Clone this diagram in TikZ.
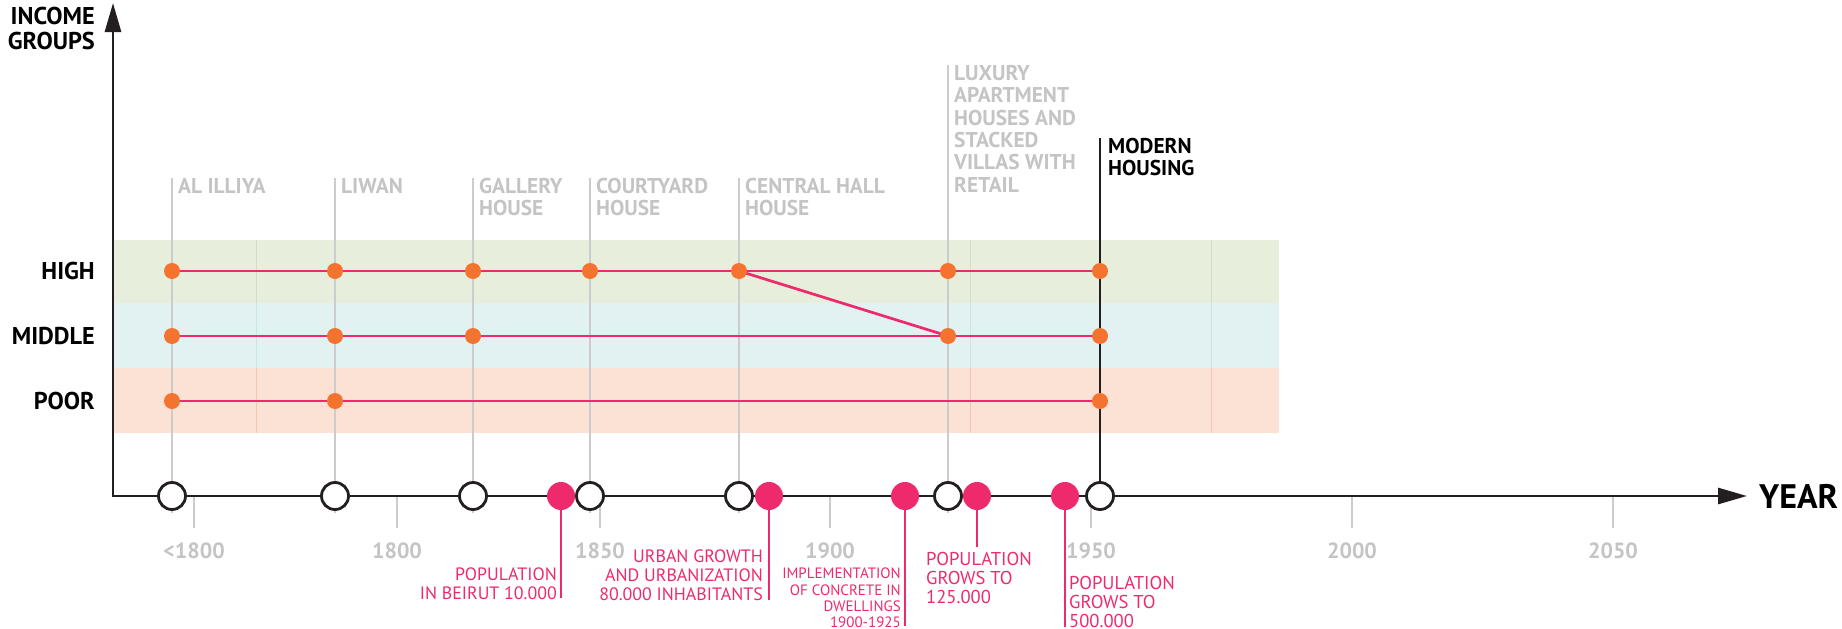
\documentclass[tikz,border=0pt]{standalone}
\usepackage{fontspec}
\setmainfont{PT Sans}
\usetikzlibrary{arrows.meta, calc}

\definecolor{pinkline}{HTML}{EE2A6C}
\definecolor{dotorange}{HTML}{F4742F}
\definecolor{bandgreen}{HTML}{E7EEDC}
\definecolor{bandblue}{HTML}{E2F2F2}
\definecolor{bandorange}{HTML}{FCE2D4}
\definecolor{greenrule}{HTML}{D3E0C0}
\definecolor{bluerule}{HTML}{C8E6E4}
\definecolor{orangerule}{HTML}{F6C8AE}
\definecolor{graytext}{HTML}{C4C4C4}
\definecolor{grayrule}{HTML}{CCCCCC}
\definecolor{axisblack}{HTML}{231F20}

\newcommand\housefont{\fontsize{21.4}{22.3}\selectfont\bfseries}
\newcommand\groupfont{\fontsize{24.3}{25}\selectfont\bfseries}
\newcommand\yearfont{\fontsize{22}{24}\selectfont\bfseries}
\newcommand\bigaxisfont{\fontsize{34}{36}\selectfont\bfseries}
\newcommand\eventfont{\fontsize{17.9}{18.7}\selectfont}
\newcommand\growfont{\fontsize{18.6}{19}\selectfont}
\newcommand\smalleventfont{\fontsize{15}{16.2}\selectfont}

\tikzset{
  axisline/.style={draw=axisblack, line width=2.8pt, line join=miter},
  typeline/.style={draw=grayrule, line width=1.2pt},
  typelabel/.style={anchor=north west, inner sep=0pt, align=left, text=graytext, font=\housefont},
  grouplabel/.style={anchor=east, inner sep=0pt, font=\groupfont},
  incomeline/.style={draw=pinkline, line width=2.7pt},
  incomedot/.style={circle, fill=dotorange, minimum size=16pt, inner sep=0pt},
  typecircle/.style={circle, draw=axisblack, line width=2.8pt, fill=white, minimum size=27pt, inner sep=0pt},
  eventdot/.style={circle, fill=pinkline, minimum size=28pt, inner sep=0pt},
  eventstem/.style={draw=pinkline, line width=2.6pt},
  eventlabel/.style={inner sep=0pt, text=pinkline, font=\eventfont},
  tickline/.style={draw=grayrule, line width=1.2pt},
  yearlabel/.style={anchor=north, inner sep=0pt, yshift=-14pt, text=graytext, font=\yearfont}
}

\begin{document}
\begin{tikzpicture}[line cap=butt, x=1pt, y=-1pt]
\useasboundingbox (0,0) rectangle (1842,629);

% income bands
\fill[bandgreen] (113,240) rectangle (1279,303);
\fill[bandblue] (113,303) rectangle (1279,368);
\fill[bandorange] (113,368) rectangle (1279,433);
\foreach \x in {256,970,1211} {
  \draw[greenrule, line width=0.8pt] (\x,240) -- (\x,303);
  \draw[bluerule, line width=0.8pt] (\x,303) -- (\x,368);
  \draw[orangerule, line width=0.8pt] (\x,368) -- (\x,433);
}

\foreach \x [count=\i] in {172,335,473,590,739,948,1100} {
  \coordinate (h\i) at (\x,271);
  \coordinate (m\i) at (\x,336);
  \coordinate (p\i) at (\x,401);
  \coordinate (t\i) at (\x,496);
}
\foreach \i in {1,...,5} \coordinate (top\i) at ($(t\i)+(0,-318)$);
\coordinate (top6) at (948,65);
\coordinate (top7) at (1100,138);

% house types
\foreach \i in {1,...,6} \draw[typeline] (top\i) -- ($(t\i)+(0,17)$);
\draw[axisblack, line width=1.2pt] (top7) -- (t7);

\node[typelabel] (illiya) at ($(top1)+(6,0)$) {AL ILLIYA};
\node[typelabel] (liwan) at ($(top2)+(6,0)$) {LIWAN};
\node[typelabel] (gallery) at ($(top3)+(6,0)$) {GALLERY\\HOUSE};
\node[typelabel] (courtyard) at ($(top4)+(6,0)$) {COURTYARD\\HOUSE};
\node[typelabel] (central) at ($(top5)+(6,0)$) {CENTRAL HALL\\HOUSE};
\node[typelabel, font=\fontsize{21.4}{22.4}\selectfont\bfseries] (luxury) at ($(top6)+(6,0)$) {LUXURY\\APARTMENT\\HOUSES AND\\STACKED\\VILLAS WITH\\RETAIL};
\node[typelabel, text=black] (modern) at ($(top7)+(8,0)$) {MODERN\\HOUSING};

% income groups
\draw[incomeline] (h1) -- (h7);
\draw[incomeline] (h5) -- (m6);
\draw[incomeline] (m1) -- (m7);
\draw[incomeline] (p1) -- (p7);
\foreach \i in {1,...,7} \node[incomedot] (dh\i) at (h\i) {};
\foreach \i in {1,2,3,6,7} \node[incomedot] (dm\i) at (m\i) {};
\foreach \i in {1,2,7} \node[incomedot] (dp\i) at (p\i) {};

\node[grouplabel] (high) at (95,271) {HIGH};
\node[grouplabel] (middle) at (95,336) {MIDDLE};
\node[grouplabel] (poor) at (95,401) {POOR};
\node[anchor=north east, inner sep=0pt, align=right, font=\groupfont] (income) at (95,7) {INCOME\\GROUPS};

% axes
\coordinate (origin) at (113,496);
\coordinate (ytip) at (113,3);
\coordinate (xtip) at (1747,496);
\draw[axisline, {Triangle[length=29pt,width=16pt]}-{Triangle[length=29pt,width=16pt]}] (ytip) -- (origin) -- (xtip);
\node[anchor=west, inner sep=0pt, font=\bigaxisfont] (year) at (1759,496) {YEAR};

\foreach \x/\yr in {194/{<1800},397/1800,600/1850,830/1900,1091/1950,1352/2000,1613/2050}
  \draw[tickline] (\x,497) -- (\x,528) node[yearlabel] (yr\x) {\yr};

\foreach \i in {1,...,7} \node[typecircle] (c\i) at (t\i) {};

% events
\foreach \x/\y [count=\i] in {561/598,769/600,905/626,977/547,1065/627} {
  \coordinate (s\i) at (\x,\y);
  \draw[eventstem] (\x,496) -- (s\i);
  \node[eventdot] (e\i) at (\x,496) {};
}

\node[eventlabel, anchor=north east, align=right] (ev1) at (557,568) {POPULATION\\IN BEIRUT 10.000};
\node[eventlabel, anchor=north east, align=right] (ev2) at (763,550) {URBAN GROWTH\\AND URBANIZATION\\80.000 INHABITANTS};
\node[eventlabel, anchor=north east, align=right, font=\smalleventfont] (ev3) at (901,568) {IMPLEMENTATION\\OF CONCRETE IN\\DWELLINGS\\1900-1925};
\node[eventlabel, anchor=north west, align=left, font=\growfont] (ev4) at (926,552) {POPULATION\\GROWS TO\\125.000};
\node[eventlabel, anchor=north west, align=left, font=\growfont] (ev5) at (1069,576) {POPULATION\\GROWS TO\\500.000};
\end{tikzpicture}
\end{document}
